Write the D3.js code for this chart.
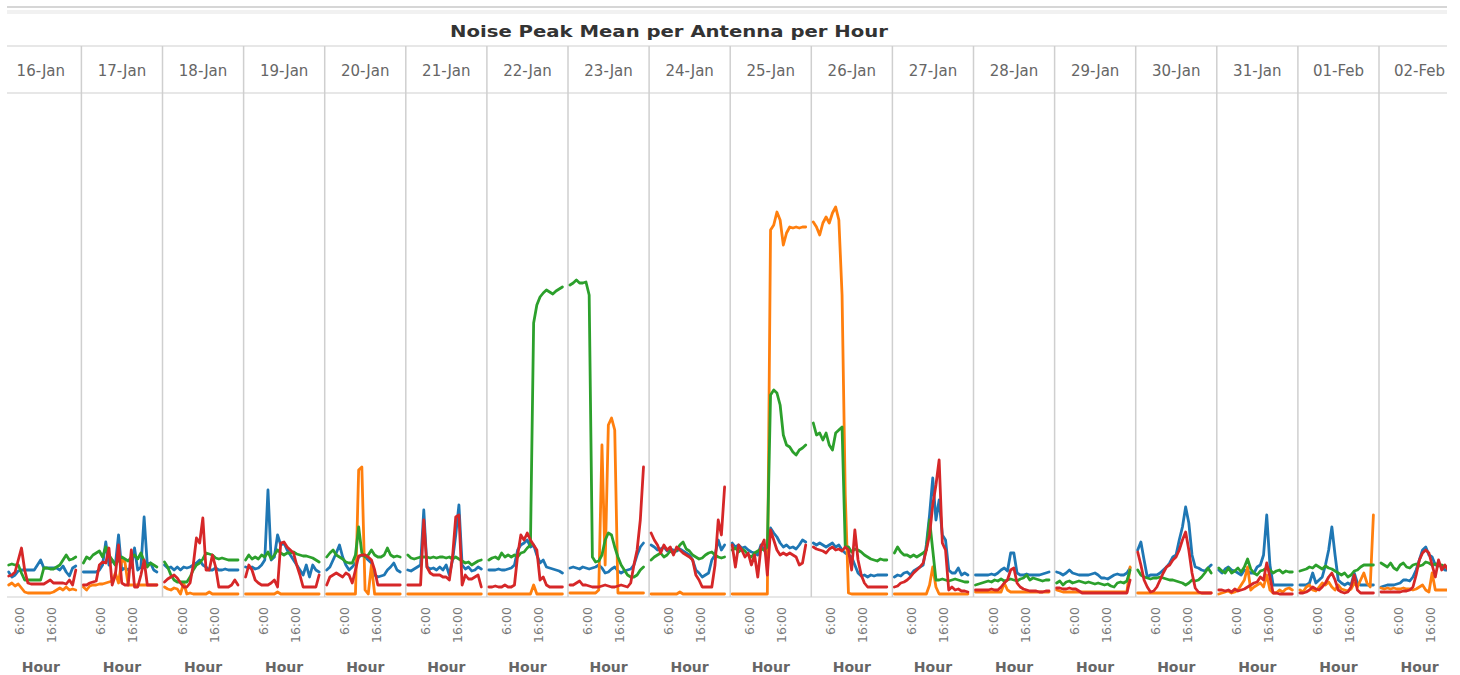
<!DOCTYPE html>
<html>
<head>
<meta charset="utf-8">
<script src="https://cdn.jsdelivr.net/npm/d3@7"></script>
<style>
body { margin: 0; background: #fff; }
text { font-family: "DejaVu Sans", Verdana, sans-serif; }
</style>
</head>
<body>
<script>
// one panel per day, hourly noise peak mean for 4 antennas
var days = ["16-Jan", "17-Jan", "18-Jan", "19-Jan", "20-Jan", "21-Jan", "22-Jan", "23-Jan", "24-Jan",
            "25-Jan", "26-Jan", "27-Jan", "28-Jan", "29-Jan", "30-Jan", "31-Jan", "01-Feb", "02-Feb"];
var hourTicks = [6, 16];
var tickLabels = ["6:00", "16:00"];
var titleText = "Noise Peak Mean per Antenna per Hour";
var axisTitle = "Hour";

var blueVals = [
  [null,null,23,18,20,24,25,25,25,25,25,30,35,27,27,27,27,27,25,29,23,19,27,29],
  [23,23,23,23,23,25,30,53,30,35,30,60,25,27,25,28,47,25,28,78,30,32,25,23],
  [30,27,28,25,28,25,28,27,28,30,32,35,30,28,25,25,27,25,25,26,25,25,25,25],
  [28,27,28,26,27,30,35,105,35,38,60,50,52,45,40,35,30,25,20,30,18,30,25,23],
  [25,28,35,42,50,38,30,25,28,32,38,40,38,35,32,20,18,19,20,25,28,32,25,23],
  [25,24,26,28,30,85,28,26,27,25,28,25,30,20,35,60,90,30,26,28,24,25,28,26],
  [25,25,25,26,25,25,26,27,30,45,50,52,55,48,50,40,32,35,28,27,26,25,24,22],
  [27,28,27,26,28,27,26,27,28,30,27,22,23,26,28,24,22,24,25,26,30,40,48,52],
  [50,48,45,46,48,44,46,45,44,46,44,42,40,35,25,22,18,20,22,35,40,55,45,50],
  [52,48,50,47,48,45,43,42,40,50,45,40,67,62,58,52,48,50,47,48,46,50,55,53],
  [52,50,52,50,48,50,52,48,50,45,42,40,38,30,22,19,20,18,20,19,20,20,20,20],
  [18,20,19,22,23,20,24,26,28,30,50,80,117,75,95,60,55,25,22,22,27,20,22,20],
  [20,20,20,20,20,21,20,22,25,27,24,42,42,22,20,20,21,20,20,20,20,21,22,23],
  [23,22,20,22,25,22,21,20,20,20,20,21,22,20,17,17,16,18,20,21,20,20,22,27],
  [45,53,35,18,20,20,20,22,25,28,32,38,40,55,68,88,72,40,28,27,25,24,27,30],
  [25,22,26,28,25,24,22,20,25,24,22,22,28,30,40,80,30,10,10,10,10,10,10,10],
  [10,10,10,12,22,12,15,18,30,45,68,40,15,12,10,12,10,22,12,10,10,10,10,10],
  [8,9,10,10,10,11,12,15,15,14,18,25,35,45,48,40,38,30,32,28,25,25]
];
var orangeVals = [
  [null,null,10,12,9,11,7,3,2,2,2,2,2,2,2,2,3,5,7,5,8,5,6,5],
  [8,5,9,10,10,11,11,12,13,14,22,12,35,33,10,10,10,10,10,10,10,10,10,10],
  [8,6,5,7,6,1,12,1,2,1,1,1,1,1,3,1,1,1,1,1,1,1,1,1],
  [1,1,1,1,1,1,1,1,1,1,3,1,1,1,1,1,1,1,1,1,1,1,1,1],
  [1,1,1,1,1,1,1,1,1,1,125,128,5,1,30,1,1,1,1,1,1,1,1,1],
  [1,1,1,1,1,1,1,1,1,1,1,1,1,1,1,1,1,1,1,1,1,1,1,1],
  [1,1,1,1,1,1,1,1,1,1,1,1,1,1,10,1,1,1,1,1,1,1,1,1],
  [2,2,2,2,2,2,2,2,2,5,150,30,170,177,165,2,2,2,2,2,2,2,2,2],
  [1,1,1,1,1,1,1,1,1,3,1,1,1,1,1,1,1,1,1,1,1,1,1,1],
  [1,1,1,1,1,1,1,1,1,1,1,1,365,370,383,375,350,362,368,367,368,367,368,368],
  [373,368,360,372,378,372,382,388,375,300,100,2,1,1,1,1,1,1,1,1,1,1,1,1],
  [1,1,1,1,1,1,1,1,1,1,1,10,28,8,1,1,1,1,1,1,1,1,1,1],
  [3,3,3,3,3,3,3,3,3,12,5,3,3,3,3,3,3,3,3,3,3,3,3,3],
  [5,4,3,3,3,3,3,3,3,3,3,3,3,3,3,3,3,3,3,3,3,3,3,28],
  [2,2,2,2,2,2,2,2,2,2,2,2,2,2,2,2,2,2,2,2,2,2,2,2],
  [1,2,3,4,2,3,5,10,15,28,5,8,10,12,8,20,5,2,2,5,3,6,7,5],
  [5,3,8,10,5,4,8,12,10,13,8,5,10,6,5,4,6,12,8,15,22,12,8,80],
  [7,6,7,6,7,6,6,7,6,6,5,6,8,10,5,3,22,5,5,5,5,5]
];
var greenVals = [
  [null,null,30,31,30,30,22,15,15,15,15,15,15,27,27,26,26,28,30,35,40,35,36,38],
  [32,38,36,40,42,44,38,48,40,35,30,35,38,36,34,38,40,36,42,34,28,32,30,28],
  [33,28,20,15,13,13,13,13,18,25,30,32,36,42,41,40,37,36,37,36,35,35,35,35],
  [35,40,36,38,36,40,38,43,36,40,45,42,40,42,42,43,41,40,39,39,38,37,35,33],
  [38,42,45,40,38,36,33,32,32,40,68,42,38,40,45,40,38,38,40,47,40,38,39,38],
  [40,37,36,37,38,38,38,37,38,37,38,38,37,38,36,38,36,34,32,33,30,32,34,35],
  [35,37,38,36,42,38,40,38,40,38,42,43,47,50,272,290,298,302,305,303,301,304,306,308],
  [310,312,315,312,312,313,300,38,33,34,40,55,62,60,48,38,30,25,20,18,18,20,25,28],
  [35,38,40,42,38,40,44,42,45,50,53,46,44,40,38,36,37,40,42,43,40,38,37,38],
  [45,47,43,46,44,40,38,42,44,46,45,48,200,205,202,190,160,150,148,143,140,145,147,150],
  [172,160,162,155,162,150,145,162,165,168,48,48,43,46,45,43,40,38,36,35,34,36,35,35],
  [42,48,43,40,40,38,40,38,40,42,45,75,45,15,15,16,15,14,15,16,15,14,13,13],
  [10,11,12,13,14,13,15,14,16,14,15,16,15,14,16,17,20,15,17,16,15,14,15,15],
  [12,14,10,13,14,12,13,14,13,12,13,12,11,12,11,10,11,9,8,12,13,12,14,25],
  [25,20,18,17,16,17,17,18,17,16,15,15,14,13,12,10,12,15,14,15,18,22,27,22],
  [27,24,22,27,22,24,27,23,28,36,26,22,20,24,25,27,25,22,24,25,22,24,23,23],
  [24,25,26,28,27,30,28,26,29,27,26,24,22,20,22,18,20,24,25,28,30,30,30,30],
  [32,30,28,32,27,25,30,32,28,27,30,31,29,30,33,32,30,31,29,30,28,28]
];
var redVals = [
  [null,null,19,20,23,35,47,25,12,11,11,11,11,11,13,15,12,12,12,12,11,15,10,25],
  [10,10,12,13,14,30,33,32,47,10,20,50,12,10,10,45,8,8,20,35,10,10,10,10],
  [13,16,18,20,17,12,8,8,12,30,57,52,77,25,25,40,28,8,8,8,8,10,15,10],
  [18,30,25,15,12,10,10,10,12,15,8,52,53,48,45,42,30,20,8,8,8,8,8,20],
  [10,18,20,22,20,18,22,20,12,25,39,40,40,38,35,25,10,10,10,10,10,10,10,10],
  [10,10,10,10,10,75,28,22,20,20,20,18,18,15,38,78,80,10,20,16,16,18,20,8],
  [8,8,9,8,8,10,8,8,10,40,60,55,62,55,50,45,15,18,10,8,8,8,8,8],
  [10,10,12,14,10,10,9,8,8,8,9,10,9,8,8,9,10,9,8,12,30,45,75,128],
  [62,55,50,42,50,45,48,40,48,45,42,40,38,35,20,15,8,8,8,8,30,75,60,108],
  [50,28,50,45,38,42,30,40,18,48,55,20,65,55,45,40,42,40,42,40,38,30,32,50],
  [48,46,45,44,42,46,48,45,46,44,48,45,25,65,35,20,12,8,8,8,8,8,8,8],
  [8,9,12,13,15,18,22,25,28,32,45,60,90,110,135,52,45,5,8,5,6,4,4,3],
  [5,5,5,5,5,6,5,5,8,12,15,25,27,12,8,6,5,4,4,4,3,3,4,4],
  [7,7,6,6,7,6,6,4,2,2,2,2,2,2,2,2,2,2,2,2,2,2,2,15],
  [43,30,15,8,3,4,8,15,22,28,30,35,38,45,55,63,45,22,7,3,2,2,2,2],
  [5,5,4,5,3,6,4,5,6,8,10,12,13,18,15,32,18,2,2,1,1,1,1,1],
  [2,2,3,5,8,6,5,8,12,18,22,15,5,3,2,3,8,20,5,2,2,2,2,2],
  [3,3,3,3,3,3,3,4,4,5,8,20,35,42,45,42,30,18,35,25,30,25]
];

// draw order: blue, orange, green, red on top
var series = [
  {name: "blue", color: "#1f77b4", vals: blueVals},
  {name: "orange", color: "#ff7f0e", vals: orangeVals},
  {name: "green", color: "#2ca02c", vals: greenVals},
  {name: "red", color: "#d62728", vals: redVals}
];

var width = 1460, height = 675,
    right = 1447,
    headTop = 46, headBottom = 93, plotBottom = 597;

var svg = d3.select("body").append("svg")
    .attr("width", width)
    .attr("height", height);

svg.append("clipPath").attr("id", "clip")
  .append("rect")
    .attr("x", 0).attr("y", 0)
    .attr("width", right).attr("height", height);

var chart = svg.append("g").attr("clip-path", "url(#clip)");

var x = d3.scaleBand()
    .domain(days)
    .range([0.3, 0.3 + 81.1 * days.length]);

var hx = d3.scaleLinear()
    .domain([0, 23])
    .range([2, 75.5]);

var y = d3.scaleLinear()
    .domain([0, 500])
    .range([595, 95]);

// top rules and title
chart.append("line")
    .attr("x1", 7).attr("x2", right).attr("y1", 7).attr("y2", 7)
    .attr("stroke", "#c8c8c8").attr("stroke-width", 1.5);
chart.append("rect")
    .attr("x", 7).attr("y", 10).attr("width", right - 7).attr("height", 4)
    .attr("fill", "#f1f1f1");

svg.append("text")
    .attr("x", 669).attr("y", 37)
    .attr("text-anchor", "middle")
    .attr("font-size", 16)
    .attr("font-weight", "bold")
    .attr("fill", "#333")
    .attr("textLength", 438)
    .attr("lengthAdjust", "spacingAndGlyphs")
    .text(titleText);

// header row lines
[headTop, headBottom, plotBottom].forEach(function(yy) {
  chart.append("line")
      .attr("x1", 7).attr("x2", right).attr("y1", yy).attr("y2", yy)
      .attr("stroke", "#d0d0d0").attr("stroke-width", 1.2);
});

chart.selectAll(".divider")
  .data(days.slice(1))
  .enter().append("line")
    .attr("class", "divider")
    .attr("x1", function(d) { return x(d) })
    .attr("x2", function(d) { return x(d) })
    .attr("y1", headTop).attr("y2", plotBottom)
    .attr("stroke", "#cfcfcf").attr("stroke-width", 1.5);

chart.selectAll(".dayLabel")
  .data(days)
  .enter().append("text")
    .attr("class", "dayLabel")
    .attr("x", function(d) { return x(d) + x.bandwidth() / 2 })
    .attr("y", 76)
    .attr("text-anchor", "middle")
    .attr("font-size", 15)
    .attr("fill", "#666")
    .text(function(d) { return d });

var line = d3.line()
    .defined(function(d) { return d != null })
    .x(function(d, i) { return hx(i) })
    .y(function(d) { return y(d) });

var panel = chart.selectAll(".panel")
  .data(days)
  .enter().append("g")
    .attr("class", "panel")
    .attr("transform", function(d) { return "translate(" + x(d) + ",0)" });

series.forEach(function(s) {
  panel.append("path")
      .datum(function(d, i) { return s.vals[i] })
      .attr("fill", "none")
      .attr("stroke", s.color)
      .attr("stroke-width", 2.8)
      .attr("stroke-linejoin", "round")
      .attr("stroke-linecap", "round")
      .attr("d", line);
});

// rotated hour ticks and axis title under each panel
hourTicks.forEach(function(t, k) {
  panel.append("text")
      .attr("transform", "translate(" + (hx(t) - 1.5) + ",607) rotate(-90)")
      .attr("text-anchor", "end")
      .attr("dy", "0.35em")
      .attr("font-size", 12.5)
      .attr("fill", "#777")
      .text(tickLabels[k]);
});

panel.append("text")
    .attr("x", x.bandwidth() / 2)
    .attr("y", 672)
    .attr("text-anchor", "middle")
    .attr("font-size", 14)
    .attr("font-weight", "bold")
    .attr("fill", "#666")
    .text(axisTitle);
</script>
</body>
</html>
